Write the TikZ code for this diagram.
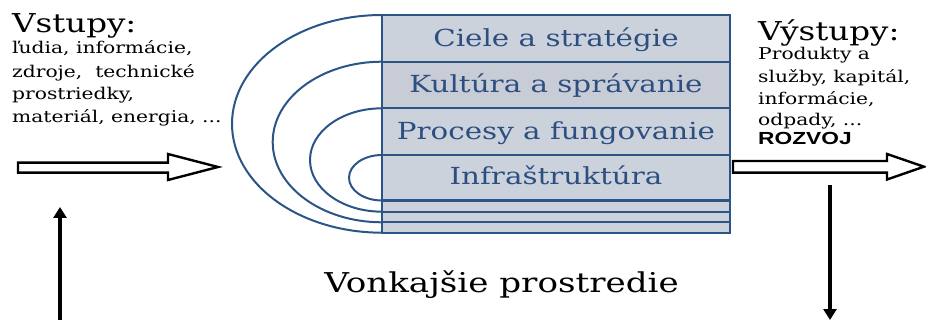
\documentclass[tikz,border=0pt]{standalone}
\usepackage{fontspec}
\usetikzlibrary{arrows.meta}
\newfontfamily\cam[FakeStretch=1.25]{DejaVu Serif}
\newfontfamily\arb[FakeStretch=1.3]{Liberation Sans}
\definecolor{boxline}{HTML}{2B5487}
\definecolor{boxtext}{HTML}{2C4F80}
\definecolor{fillA}{HTML}{CCD2DC}
\definecolor{fillB}{HTML}{C8CCD7}
\tikzset{
  rowtext/.style={anchor=base, inner sep=0pt, text=boxtext, font=\cam\fontsize{23.5}{28}\selectfont},
  head/.style={anchor=base west, inner sep=0pt, font=\cam\fontsize{26}{30}\selectfont},
  small/.style={anchor=base west, inner sep=0pt, font=\cam\fontsize{16.2}{20}\selectfont},
  hollow/.style={draw=black, line width=2.4pt, fill=white, line join=miter},
  boxrow/.style={draw=boxline, line width=2.3pt},
  ring/.style={draw=boxline, line width=2pt},
  vert/.style={line width=3.4pt, -{Triangle[width=13pt,length=11pt]}}
}
\begin{document}
\begin{tikzpicture}[x=1pt,y=-1pt]
\useasboundingbox (0,0) rectangle (926,320);
% box rows
\fill[fillA] (382,15) rectangle (730,232.7);
\fill[fillB] (382,61.7) rectangle (730,108.3);
\foreach \yy in {61.7,108.3,155,200.5,211.7,222.3}
  \draw[boxrow] (382,\yy) -- (730,\yy);
\draw[boxrow] (382,15) rectangle (730,232.7);
% half-ellipses
\draw[ring] (382,15) arc[start angle=90, end angle=270, x radius=150pt, y radius=108.85pt];
\draw[ring] (382,61.7) arc[start angle=90, end angle=270, x radius=109.3pt, y radius=80.3pt];
\draw[ring] (382,108.3) arc[start angle=90, end angle=270, x radius=72pt, y radius=51.7pt];
\draw[ring] (382,155) arc[start angle=90, end angle=270, x radius=33pt, y radius=22.75pt];
% row texts
\node[rowtext] (r1) at (556,46.7) {Ciele a stratégie};
\node[rowtext] (r2) at (556,92.7) {Kultúra a správanie};
\node[rowtext] (r3) at (556,139.3) {Procesy a fungovanie};
\node[rowtext] (r4) at (556,184.3) {Infraštruktúra};
% inputs
\node[head] (vin) at (12,33) {Vstupy:};
\node[small] (i1) at (12,54) {ľudia, informácie,};
\node[small] (i2) at (12,77.5) {zdroje,\ \ technické};
\node[small] (i3) at (12,100) {prostriedky,};
\node[small] (i4) at (12,122.7) {materiál, energia, ...};
% outputs
\node[head] (vout) at (758,40.7) {Výstupy:};
\node[small] (o1) at (758,60) {Produkty a};
\node[small] (o2) at (758,83) {služby, kapitál,};
\node[small] (o3) at (758,105) {informácie,};
\node[small] (o4) at (758,126) {odpady, ...};
\node[anchor=base west, inner sep=0pt, font=\arb\bfseries\fontsize{17.5}{20}\selectfont] (rz) at (758,145) {ROZVOJ};
% environment
\node[anchor=base, inner sep=0pt, font=\cam\fontsize{27.3}{30}\selectfont] (env) at (501.5,293) {Vonkajšie prostredie};
% hollow arrows
\draw[hollow] (18,162.7) -- (168,162.7) -- (168,154) -- (218,167) -- (168,180) -- (168,172.7) -- (18,172.7) -- cycle;
\draw[hollow] (733,161) -- (887,161) -- (887,154) -- (924,166.7) -- (887,179.5) -- (887,172.7) -- (733,172.7) -- cycle;
% vertical arrows
\coordinate (ua) at (60,320);
\coordinate (ub) at (60,207);
\coordinate (da) at (830,185);
\coordinate (db) at (830,320);
\draw[vert] (ua) -- (ub);
\draw[vert] (da) -- (db);
\end{tikzpicture}
\end{document}
